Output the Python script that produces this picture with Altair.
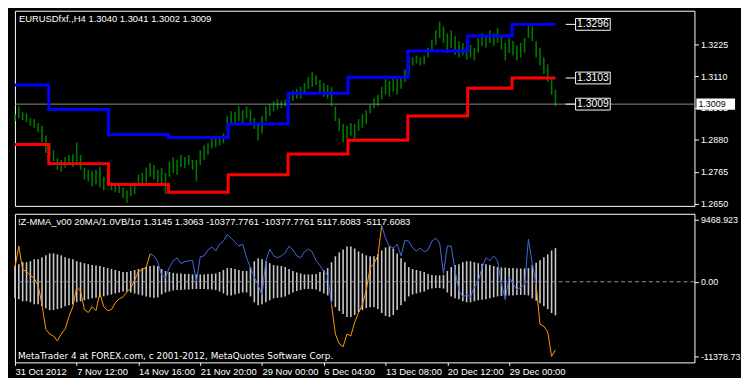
import altair as alt
import pandas as pd

FONT = "Liberation Sans"
FOOT_FONT = "DejaVu Sans"

symbol_title = "EURUSDfxf.,H4  1.3040 1.3041 1.3002 1.3009"
osc_title = "!Z-MMA_v00 20MA/1.0VB/1\u03c3  1.3145 1.3063 -10377.7761 -10377.7761 5117.6083 -5117.6083"
footer_text = "MetaTrader 4 at FOREX.com, c 2001-2012, MetaQuotes Software Corp."

# H4 bar index (every second bar)
bar_index = list(range(0, 282, 2))

high = [1.2973, 1.3001, 1.2980, 1.2976, 1.2959, 1.2955, 1.2941, 1.2931, 1.2896, 1.2868,
        1.2843, 1.2815, 1.2808, 1.2818, 1.2826, 1.2829, 1.2871, 1.2826, 1.2780, 1.2773,
        1.2769, 1.2773, 1.2783, 1.2748, 1.2766, 1.2727, 1.2720, 1.2720, 1.2710, 1.2699,
        1.2717, 1.2727, 1.2755, 1.2762, 1.2780, 1.2797, 1.2790, 1.2773, 1.2780, 1.2762,
        1.2801, 1.2818, 1.2808, 1.2826, 1.2818, 1.2826, 1.2808, 1.2808, 1.2843, 1.2861,
        1.2868, 1.2889, 1.2896, 1.2892, 1.2903, 1.2966, 1.2983, 1.2980, 1.3001, 1.2987,
        1.3001, 1.2990, 1.2959, 1.2938, 1.2966, 1.3001, 1.3008, 1.3019, 1.3026, 1.3022,
        1.3026, 1.3043, 1.3057, 1.3064, 1.3071, 1.3085, 1.3106, 1.3124, 1.3113, 1.3096,
        1.3085, 1.3078, 1.3071, 1.3001, 1.2959, 1.2938, 1.2931, 1.2941, 1.2938, 1.2955,
        1.2973, 1.2987, 1.3008, 1.3029, 1.3043, 1.3071, 1.3099, 1.3092, 1.3106, 1.3099,
        1.3106, 1.3134, 1.3177, 1.3177, 1.3184, 1.3177, 1.3184, 1.3212, 1.3240, 1.3275,
        1.3306, 1.3289, 1.3264, 1.3275, 1.3254, 1.3236, 1.3229, 1.3219, 1.3222, 1.3212,
        1.3247, 1.3264, 1.3254, 1.3275, 1.3264, 1.3282, 1.3257, 1.3229, 1.3247, 1.3236,
        1.3219, 1.3229, 1.3247, 1.3299, 1.3289, 1.3236, 1.3212, 1.3177, 1.3152, 1.3106,
        1.3061]

low = [1.2948, 1.2959, 1.2952, 1.2945, 1.2931, 1.2924, 1.2910, 1.2871, 1.2833, 1.2818,
       1.2804, 1.2773, 1.2766, 1.2780, 1.2790, 1.2783, 1.2797, 1.2773, 1.2738, 1.2731,
       1.2713, 1.2720, 1.2710, 1.2699, 1.2720, 1.2699, 1.2692, 1.2689, 1.2671, 1.2654,
       1.2678, 1.2685, 1.2713, 1.2720, 1.2727, 1.2748, 1.2738, 1.2727, 1.2720, 1.2685,
       1.2748, 1.2762, 1.2755, 1.2783, 1.2780, 1.2790, 1.2773, 1.2731, 1.2790, 1.2808,
       1.2826, 1.2850, 1.2854, 1.2861, 1.2868, 1.2913, 1.2938, 1.2938, 1.2948, 1.2941,
       1.2959, 1.2938, 1.2920, 1.2878, 1.2903, 1.2948, 1.2966, 1.2983, 1.2990, 1.2994,
       1.3001, 1.3012, 1.3019, 1.3029, 1.3029, 1.3043, 1.3064, 1.3071, 1.3078, 1.3054,
       1.3036, 1.3029, 1.3001, 1.2948, 1.2913, 1.2871, 1.2885, 1.2896, 1.2885, 1.2913,
       1.2924, 1.2938, 1.2976, 1.2994, 1.3001, 1.3026, 1.3043, 1.3036, 1.3054, 1.3043,
       1.3064, 1.3089, 1.3113, 1.3148, 1.3155, 1.3148, 1.3152, 1.3177, 1.3201, 1.3222,
       1.3247, 1.3229, 1.3194, 1.3212, 1.3187, 1.3177, 1.3184, 1.3169, 1.3177, 1.3166,
       1.3194, 1.3219, 1.3212, 1.3229, 1.3219, 1.3229, 1.3205, 1.3166, 1.3194, 1.3184,
       1.3166, 1.3177, 1.3194, 1.3247, 1.3236, 1.3177, 1.3148, 1.3117, 1.3089, 1.3043,
       1.3001]

# volatility band (+/- sigma) of the oscillator
band = [2459, 2682, 2980, 2980, 3129, 3427, 3427, 3725, 4023, 4321,
        4321, 4172, 4023, 3725, 3576, 3427, 3129, 2980, 2831, 2682,
        2533, 2459, 2384, 2235, 2086, 1937, 1788, 1639, 1490, 1490,
        1639, 1788, 1937, 2086, 2235, 2384, 2459, 2384, 1937, 1639,
        1490, 1341, 1267, 1267, 1192, 1192, 1118, 1118, 1118, 1118,
        1192, 1192, 1267, 1490, 1788, 2086, 2086, 1937, 1788, 1639,
        1639, 2235, 3129, 3576, 3427, 3129, 2831, 2533, 2459, 2384,
        2235, 1937, 1639, 1416, 1267, 1118, 1118, 1118, 1192, 1490,
        1788, 2086, 2980, 3874, 4470, 4917, 5364, 5364, 5066, 4619,
        4321, 4023, 3874, 3874, 4172, 4768, 5215, 5364, 5066, 4321,
        3576, 2980, 2235, 1937, 1788, 1639, 1490, 1192, 1043, 969,
        969, 1043, 1639, 2235, 2533, 2682, 2980, 3129, 3129, 2980,
        2831, 2757, 2682, 2533, 2384, 2235, 2161, 2161, 2086, 2086,
        2012, 2012, 2012, 2086, 2533, 2906, 3278, 3725, 4172, 4768,
        5118]

mma = [2161, 5439, 1862, 1565, 969, 522, -522, -3502, -7227, -7972,
       -8270, -9015, -7972, -7227, -5290, -3800, -820, -1416, -4247, -4694,
       -3800, -4396, -1714, -3800, -4396, -4247, -3204, -2608, -2310, -1565,
       -969, 224, 1565, 1862, 2161, 4247, 3949, 3055, 969, 671,
       2161, 3204, 3651, 2757, 3055, 3204, 3204, 75, 3800, 3949,
       4843, 5290, 4694, 5737, 6184, 7227, 6631, 6035, 5439, 5737,
       3651, 2161, 671, -522, -2012, 3204, 4992, 3949, 3651, 3949,
       4396, 5439, 4843, 3949, 3651, 4545, 4992, 4545, 3204, 2459,
       1565, 969, -3502, -7972, -9462, -9909, -7972, -8270, -6184, -4694,
       -3502, -1267, 2161, 2757, 3949, 8568, 6631, 5439, 5141, 5737,
       3949, 6333, 6184, 5141, 4694, 5141, 4545, 4843, 6184, 6631,
       5886, 1267, 5439, 5439, 1714, -1267, -2310, -2012, -2310, -820,
       75, 2161, 3651, 3204, 3949, 3204, -224, -2757, 671, -224,
       -1267, -820, -522, 6482, 2757, -522, -6482, -6780, -7674, -11379,
       -10378]

state_starts = [0, 36, 83, 96, 136]
state_names = ["falling", "rising", "falling", "rising", "falling"]

# weekly channel levels (step lines)
step_index = [0, 17.5, 48.5, 79.5, 110.5, 141.5, 172.5, 203.5, 234.5, 257.5, 280]
upper = [1.3078, 1.2990, 1.2900, 1.2889, 1.2938, 1.3048, 1.3106, 1.3200, 1.3254, 1.3296, 1.3296]
lower = [1.2864, 1.2795, 1.2720, 1.2692, 1.2755, 1.2830, 1.2879, 1.2966, 1.3066, 1.3103, 1.3103]

level_prices = [1.3296, 1.3103, 1.3009]
last_price = 1.3009
price_ticks = [1.2650, 1.2765, 1.2880, 1.2995, 1.3110, 1.3225]
osc_ticks = [-11378.73, 0.0, 9468.923]
osc_tick_labels = ["-11378.73", "0.00", "9468.923"]
time_ticks = [0, 32, 64, 96, 128, 160, 192, 224, 256]
time_labels = ["31 Oct 2012", "7 Nov 12:00", "14 Nov 16:00", "21 Nov 20:00",
               "29 Nov 00:00", "6 Dec 04:00", "13 Dec 08:00", "20 Dec 12:00",
               "29 Dec 00:00"]

W, H1, H2 = 686, 197, 150

# ---------- data tables ----------
price_df = pd.DataFrame({"i": bar_index, "high": high, "low": low})
band_df = pd.DataFrame({"i": bar_index, "up": band, "dn": [-b for b in band]})
step_df = pd.DataFrame({"i": step_index, "upper": upper, "lower": lower})
level_df = pd.DataFrame({"p": level_prices})
last_df = pd.DataFrame({"p": [last_price]})

rows = []
for s, start in enumerate(state_starts):
    end = state_starts[s + 1] if s + 1 < len(state_starts) else len(mma)
    for k in range(max(start - 1, 0), end):
        rows.append({"i": bar_index[k], "v": mma[k], "seg": s, "state": state_names[s]})
mma_df = pd.DataFrame(rows)

# ---------- scales & axes ----------
x_scale = alt.Scale(domain=[0, 352], nice=False, zero=False)
price_scale = alt.Scale(domain=[1.2643, 1.3345], nice=False, zero=False)
osc_scale = alt.Scale(domain=[-12293, 10355], nice=False, zero=False)

price_axis = alt.Axis(orient="right", values=price_ticks, format=".4f", grid=False,
                      domain=False, tickColor="white", tickSize=4, labelColor="white",
                      labelFontSize=9, labelPadding=2, labelOverlap=False, title=None)

osc_expr = "''"
for v, lab in zip(osc_ticks, osc_tick_labels):
    osc_expr = f"abs(datum.value - ({v})) < 1 ? '{lab}' : ({osc_expr})"
osc_axis = alt.Axis(orient="right", values=osc_ticks, labelExpr=osc_expr, grid=False,
                    domain=False, tickColor="white", tickSize=4, labelColor="white",
                    labelFontSize=9, labelPadding=2, labelOverlap=False, title=None)

time_expr = "''"
for t, lab in zip(time_ticks, time_labels):
    time_expr = f"abs(datum.value - {t}) < 0.5 ? '{lab}' : ({time_expr})"
time_axis = alt.Axis(values=time_ticks, labelExpr=time_expr, grid=False, domain=False,
                     tickColor="white", tickSize=3, labelColor="white", labelFontSize=9.5,
                     labelAlign="left", labelFlush=False, labelOverlap=False,
                     labelPadding=1, title=None)

X_top = lambda f: alt.X(f, scale=x_scale, axis=None, title=None)
X_bot = lambda f: alt.X(f, scale=x_scale, axis=time_axis, title=None)
Y_price = lambda f: alt.Y(f, scale=price_scale, axis=price_axis, title=None)
Y_osc = lambda f: alt.Y(f, scale=osc_scale, axis=osc_axis, title=None)

# ---------- top panel ----------
bars = alt.Chart(price_df).mark_rule(color="#007800", strokeWidth=1.6).encode(
    x=X_top("i:Q"), y=Y_price("high:Q"), y2="low:Q")

last_line = alt.Chart(last_df).mark_rule(color="#8c8c8c", strokeWidth=1).encode(
    y=Y_price("p:Q"))

upper_line = alt.Chart(step_df).mark_line(interpolate="step-after", color="#0000FF",
                                          strokeWidth=3).encode(
    x=X_top("i:Q"), y=Y_price("upper:Q"))
lower_line = alt.Chart(step_df).mark_line(interpolate="step-after", color="#FF0000",
                                          strokeWidth=3).encode(
    x=X_top("i:Q"), y=Y_price("lower:Q"))

leaders = alt.Chart(level_df).mark_rule(color="white", strokeWidth=1).encode(
    x=alt.value(556), x2=alt.value(566), y=Y_price("p:Q"))
boxes = alt.Chart(level_df).mark_point(
    shape="M-1,-0.34H1V0.34H-1Z", size=1225, filled=True, fill="black",
    stroke="white", strokeWidth=1, opacity=1).encode(
    x=alt.value(583.5), y=Y_price("p:Q"))
box_text = alt.Chart(level_df).mark_text(
    color="white", fontSize=10.5, align="center", baseline="middle", font=FONT).encode(
    x=alt.value(583.5), y=Y_price("p:Q"), text=alt.Text("p:Q", format=".4f"))

hl_box = alt.Chart(last_df).mark_point(
    shape="M-1,-0.29H1V0.29H-1Z", size=1521, filled=True, fill="white",
    stroke="white", strokeWidth=0, opacity=1).encode(
    x=alt.value(W + 21.5), y=Y_price("p:Q"))
hl_text = alt.Chart(last_df).mark_text(
    color="black", fontSize=9, align="left", baseline="middle", font=FONT).encode(
    x=alt.value(W + 4), y=Y_price("p:Q"), text=alt.Text("p:Q", format=".4f"))

top_title = alt.Chart(pd.DataFrame({"t": [symbol_title]})).mark_text(
    color="white", fontSize=9.5, align="left", baseline="middle", font=FONT).encode(
    x=alt.value(4), y=alt.value(8), text="t:N")

top = alt.layer(bars, last_line, upper_line, lower_line, leaders, boxes, box_text,
                hl_box, hl_text, top_title).properties(width=W, height=H1)

# ---------- bottom panel ----------
band_bars = alt.Chart(band_df).mark_rule(color="#C8C8C8", strokeWidth=1.6).encode(
    x=X_bot("i:Q"), y=Y_osc("up:Q"), y2="dn:Q")

zero_line = alt.Chart(pd.DataFrame({"z": [0.0]})).mark_rule(
    color="#8a90b0", strokeWidth=1, strokeDash=[4, 3]).encode(y=Y_osc("z:Q"))

mma_line = alt.Chart(mma_df).mark_line(strokeWidth=1).encode(
    x=X_bot("i:Q"), y=Y_osc("v:Q"), detail="seg:N",
    color=alt.Color("state:N", scale=alt.Scale(domain=["falling", "rising"],
                                               range=["#FF9900", "#4169E1"]),
                    legend=None))

osc_label = alt.Chart(pd.DataFrame({"t": [osc_title]})).mark_text(
    color="white", fontSize=9.5, align="left", baseline="middle", font=FONT).encode(
    x=alt.value(3), y=alt.value(8), text="t:N")
footer = alt.Chart(pd.DataFrame({"t": [footer_text]})).mark_text(
    color="white", fontSize=9, align="left", baseline="middle", font=FOOT_FONT).encode(
    x=alt.value(3), y=alt.value(H2 - 6), text="t:N")

bottom = alt.layer(band_bars, zero_line, mma_line, osc_label, footer).properties(
    width=W, height=H2)

chart = alt.vconcat(top, bottom, spacing=3).properties(
    padding=0, background="black"
).configure_view(
    stroke="white", strokeWidth=1
).configure_axis(
    labelFont=FONT
).configure_text(font=FONT)

chart.save("out.html", embed_options={"renderer": "svg", "actions": False})
